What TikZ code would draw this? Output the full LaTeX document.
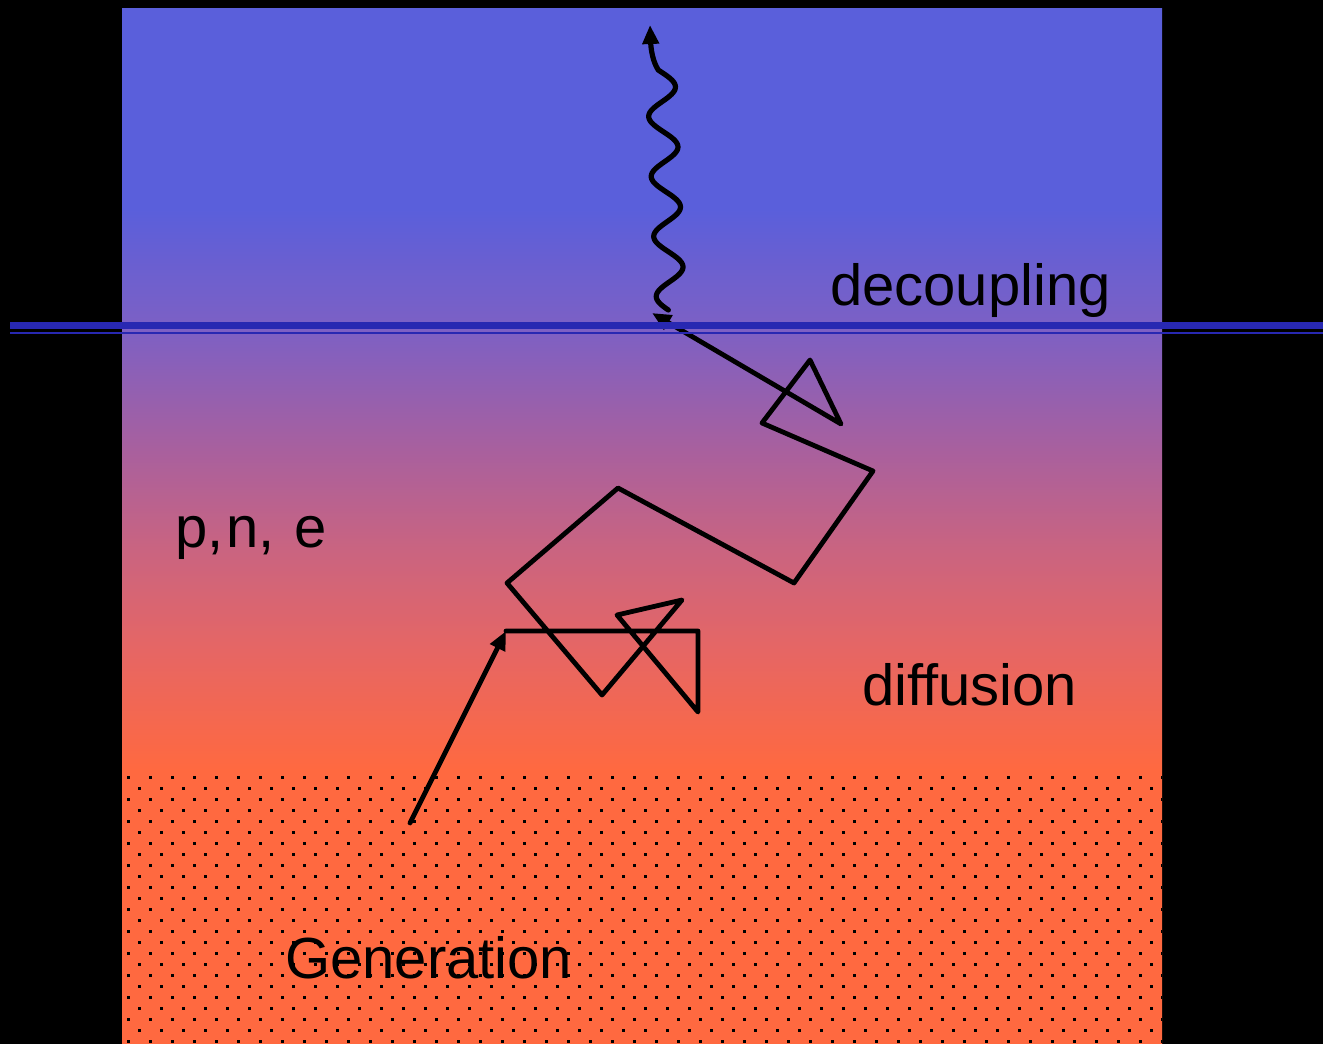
\documentclass[tikz,border=0pt]{standalone}
\usepackage{fontspec}
\setmainfont{Liberation Sans}
\usetikzlibrary{arrows.meta}
\definecolor{cBl}{RGB}{90,95,219}
\definecolor{c330}{RGB}{125,96,196}
\definecolor{c450}{RGB}{168,96,158}
\definecolor{c550}{RGB}{202,100,128}
\definecolor{c650}{RGB}{230,102,100}
\definecolor{cOr}{RGB}{255,105,64}
\definecolor{bandblue}{RGB}{40,40,178}
\pgfdeclareverticalshading{bgshade}{100bp}{color(0bp)=(cOr); color(38.2bp)=(cOr); color(44bp)=(c650); color(48.8bp)=(c550); color(53.7bp)=(c450); color(59.5bp)=(c330); color(65.3bp)=(cBl); color(100bp)=(cBl)}
\tikzset{
  lbl/.style={anchor=base west, inner sep=0pt, font=\fontsize{58}{60}\selectfont, text=black},
  walk/.style={draw=black, line width=4.8pt, line join=round, line cap=round},
  tip/.style={-{Triangle[length=19pt,width=16pt]}},
  dot/.style={fill=black}
}
\begin{document}
\begin{tikzpicture}[x=1pt,y=-1pt]
\useasboundingbox (0,0) rectangle (1323,1044);
\fill[black] (0,0) rectangle (1323,1044);
\shade[shading=bgshade] (122,8) rectangle (1162,1044);
% dotted generation region
\begin{scope}
\clip (122,770) rectangle (1162,1044);
\foreach \r in {0,...,24}{
  \pgfmathsetmacro{\yy}{777.3+11*\r}
  \pgfmathsetmacro{\xo}{128.3+11*mod(\r,2)}
  \foreach \c in {0,...,47}{
    \fill[dot] ({\xo+22*\c-1.5},{\yy-1.5}) rectangle ++(3,3);
  }
}
\end{scope}
% coordinates of the random walk
\coordinate (g0) at (410,823);
\coordinate (d0) at (506,631);
\coordinate (d1) at (698,631);
\coordinate (d2) at (698,712);
\coordinate (d3) at (617,615);
\coordinate (d4) at (682,600);
\coordinate (d5) at (602,695);
\coordinate (d6) at (507,583);
\coordinate (d7) at (618,488);
\coordinate (d8) at (794,583);
\coordinate (d9) at (873,471);
\coordinate (d10) at (762,423);
\coordinate (d11) at (810,360);
\coordinate (d12) at (841,424);
\coordinate (d13) at (652,313);
\coordinate (w1) at (650,25);
% generation arrow
\draw[walk, tip] (g0) -- (d0);
% diffusion walk
\draw[walk, tip] (d0) -- (d1) -- (d2) -- (d3) -- (d4) -- (d5) -- (d6) -- (d7) -- (d8) -- (d9) -- (d10) -- (d11) -- (d12) -- (d13);
% photon (wavy)
\draw[walk, line width=5.2pt, tip] plot[domain=310:70, samples=160, smooth, variable=\t] ({662+(\t-100)*0.042+14*cos(6*(\t-86.7))}, {\t}) .. controls (653,62) and (651,50) .. (w1);
% decoupling surface
\draw[bandblue, line width=7.3pt] (10,325.6) -- (1323,325.6);
\draw[bandblue, line width=2.2pt] (10,333) -- (1323,333);
% labels
\node[lbl] (dec) at (830,305) {decoupling};
\node[lbl] (pne) at (175,547) {p,\kern3pt n,\kern3pt\ e};
\node[lbl] (dif) at (862,705) {diffusion};
\node[lbl] (gen) at (285,978) {Generation};
\end{tikzpicture}
\end{document}
